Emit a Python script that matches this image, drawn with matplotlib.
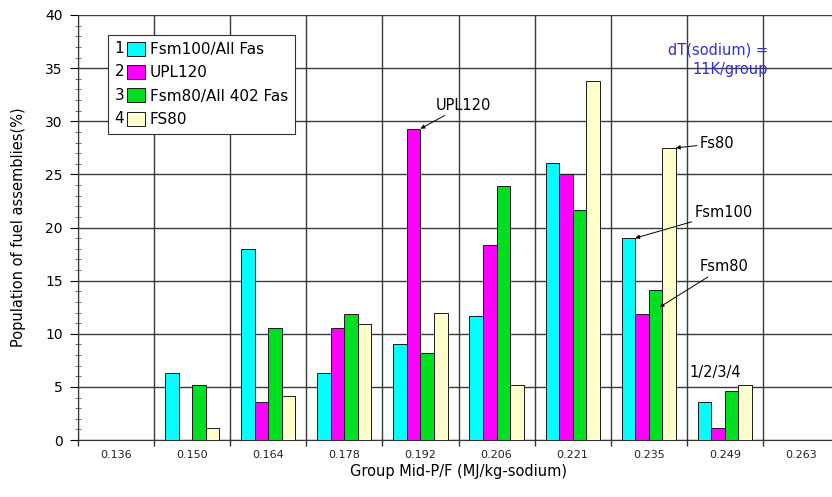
import matplotlib
matplotlib.use('Agg')
import matplotlib.pyplot as plt
import numpy as np
from matplotlib.legend_handler import HandlerPatch
from matplotlib.patches import Rectangle
from matplotlib.text import Text

# group mid-points of P/F (MJ/kg-sodium)
groups = ['0.136', '0.150', '0.164', '0.178', '0.192',
          '0.206', '0.221', '0.235', '0.249', '0.263']

# population of fuel assemblies (%) per group
fsm100 = [0, 6.3, 18.0, 6.3, 9.0, 11.7, 26.1, 19.0, 3.6, 0]
upl120 = [0, 0, 3.6, 10.5, 29.3, 18.4, 25.0, 11.9, 1.1, 0]
fsm80 = [0, 5.2, 10.5, 11.9, 8.2, 23.9, 21.6, 14.1, 4.6, 0]
fs80 = [0, 1.1, 4.1, 10.9, 12.0, 5.2, 33.8, 27.5, 5.2, 0]

series = [fsm100, upl120, fsm80, fs80]
labels = ['Fsm100/All Fas', 'UPL120', 'Fsm80/All 402 Fas', 'FS80']
colors = ['#00ffff', '#ff00ff', '#00e020', '#ffffcc']


class NumberedHandler(HandlerPatch):
    """Legend handle drawn as 'n' followed by a small square."""

    def __init__(self, num):
        super().__init__()
        self.num = num

    def create_artists(self, legend, orig_handle, xdescent, ydescent,
                       width, height, fontsize, trans):
        num = Text(-xdescent, -ydescent + height / 2, self.num,
                   fontsize=fontsize, va='center', ha='left')
        num.set_transform(trans)
        sq = Rectangle((-xdescent + width * 0.42, -ydescent - 1),
                       width * 0.58, height + 2)
        self.update_prop(sq, orig_handle, legend)
        sq.set_transform(trans)
        return [num, sq]


fig = plt.figure(figsize=(8.32, 4.97), dpi=100)
ax = fig.add_axes([78 / 832, 57 / 497, 761 / 832, 425 / 497])

x = np.arange(len(groups))
w = 0.178
bars = []
for i, (vals, col) in enumerate(zip(series, colors)):
    b = ax.bar(x + (i - 1.5) * w, vals, width=w, color=col,
               edgecolor='#1a1a1a', linewidth=0.7, zorder=3, label=labels[i])
    bars.append(b)

ax.set_xlim(-0.5, len(groups) - 0.5)
ax.set_ylim(0, 40)

# grid lines on category boundaries and every 5 %
ax.set_xticks(np.arange(-0.5, len(groups) - 0.5, 1.0))
ax.set_xticklabels([])
ax.set_xticks(x, minor=True)
ax.set_xticklabels(groups, minor=True, fontsize=8, color='#222222')
ax.tick_params(axis='x', which='major', length=4, width=1, color='#333333')
ax.tick_params(axis='x', which='minor', length=0, pad=7)
ax.set_yticks(np.arange(0, 41, 5))
ax.set_yticks(np.arange(0, 41, 1), minor=True)
ax.tick_params(axis='y', which='major', length=6, labelsize=10, pad=5)
ax.tick_params(axis='y', which='minor', length=4, direction='inout',
               color='#555555')
ax.grid(True, which='major', color='#3a3a3a', linewidth=1.0, zorder=0)
for s in ['top', 'right']:
    ax.spines[s].set_visible(False)
ax.spines['left'].set_color('#333333')
ax.spines['bottom'].set_color('#333333')

ax.set_xlabel('Group Mid-P/F (MJ/kg-sodium)', fontsize=10.5, labelpad=3)
ax.set_ylabel('Population of fuel assemblies(%)', fontsize=10.5, labelpad=14)

handles = [b.patches[1] for b in bars]
leg = ax.legend(handles, labels, loc='upper left',
                bbox_to_anchor=(0.039, 0.953), borderaxespad=0,
                fontsize=11,
                handler_map={h: NumberedHandler(str(k + 1))
                             for k, h in enumerate(handles)},
                handlelength=2.0, handleheight=0.75, handletextpad=0.3,
                labelspacing=0.55, borderpad=0.45, fancybox=False,
                framealpha=1, edgecolor='#333333')
leg.get_frame().set_linewidth(0.8)
leg.set_zorder(5)

arrow = dict(arrowstyle='-|>', color='black', lw=0.7, mutation_scale=6,
             shrinkA=0, shrinkB=0)
note = dict(fontsize=10.5, va='center', ha='left', arrowprops=arrow, zorder=6)
ax.annotate('UPL120', xy=(x[4], upl120[4]), xytext=(4.2, 31.5), **note)
ax.annotate('Fs80', xy=(x[7] + 2 * w, fs80[7]), xytext=(7.67, 27.9), **note)
ax.annotate('Fsm100', xy=(x[7] - w, fsm100[7]), xytext=(7.6, 21.4), **note)
ax.annotate('Fsm80', xy=(x[7] + 0.8 * w, fsm80[7] - 1.6), xytext=(7.67, 16.3),
            **note)
ax.text(7.54, 6.4, '1/2/3/4', fontsize=10.5, va='center', ha='left', zorder=6)
ax.text(8.57, 35.8, 'dT(sodium) =\n11K/group', fontsize=10.5, color='#3030d0',
        va='center', ha='right', multialignment='right', linespacing=1.35,
        zorder=6)

fig.savefig('out.png', dpi=100)
